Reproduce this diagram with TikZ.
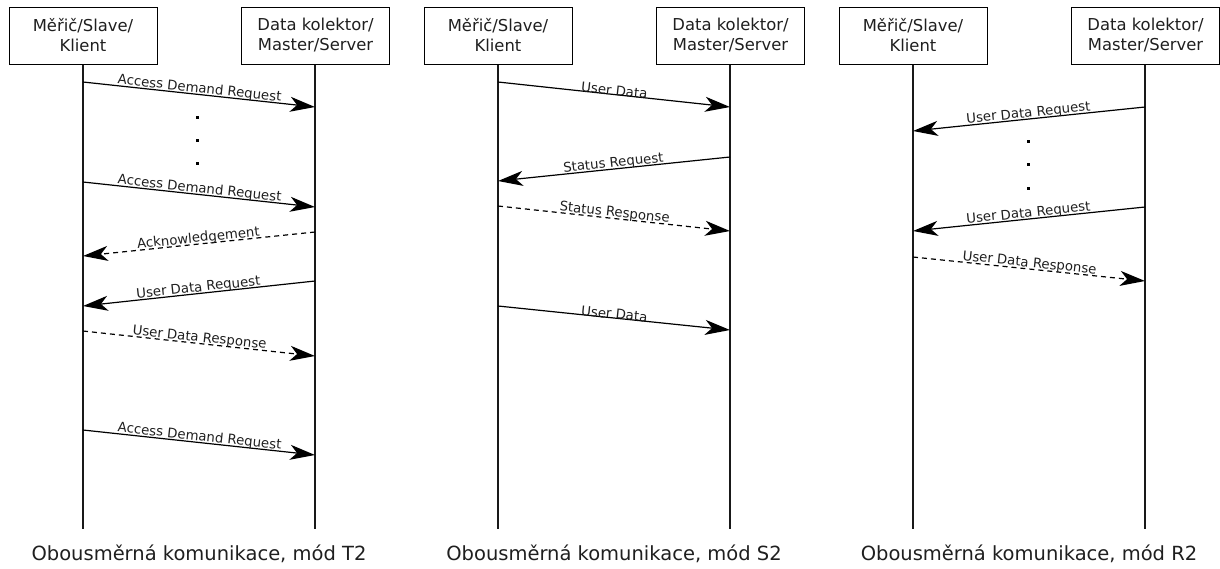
\documentclass[tikz,border=0pt]{standalone}
\usepackage{fontspec}
\setmainfont{DejaVu Sans}
\usetikzlibrary{arrows.meta}
\begin{document}
\begin{tikzpicture}[x=1pt,y=-1pt,
  actor/.style={draw, line width=1pt, minimum width=148pt, minimum height=57pt, align=center, font=\fontsize{16.4}{20}\selectfont, inner sep=0pt, text=black!88},
  life/.style={line width=1.4pt, black!90},
  msg/.style={line width=1.2pt, -{Stealth[length=25pt,width=15pt,inset=7pt]}},
  resp/.style={msg, dash pattern=on 5pt off 4pt},
  lbl/.style={midway, sloped, above=-1.5pt, inner sep=0pt, font=\fontsize{13.3}{15}\selectfont, text=black!88},
  captext/.style={font=\fontsize{19.5}{23}\selectfont, anchor=base, text=black!88},
  dotbox/.style={fill=black, minimum size=3pt, inner sep=0pt}
]
\useasboundingbox (0,0) rectangle (1220,568);
% ---------- panel 1 ----------
\node[actor] (c1) at (83,35.5) {Měřič/Slave/\\Klient};
\node[actor] (s1) at (315.5,35.5) {Data kolektor/\\Master/Server};
\coordinate (ce1) at (83,529);
\coordinate (se1) at (315,529);
\draw[life] (c1.south) -- (ce1);
\draw[life] (s1.south -| se1) -- (se1);
\node[captext] (t1) at (199,560) {Obousměrná komunikace, mód T2};
\draw[msg] (ce1 |- 0,82) -- node[lbl]{Access Demand Request} (se1 |- 0,107);
\node[dotbox] (d1a) at (197,117) {};
\node[dotbox] (d1b) at (197,140) {};
\node[dotbox] (d1c) at (197,163) {};
\draw[msg] (ce1 |- 0,182) -- node[lbl]{Access Demand Request} (se1 |- 0,207);
\draw[resp] (se1 |- 0,232) -- node[lbl]{Acknowledgement} (ce1 |- 0,256);
\draw[msg] (se1 |- 0,281) -- node[lbl]{User Data Request} (ce1 |- 0,306);
\draw[resp] (ce1 |- 0,331) -- node[lbl]{User Data Response} (se1 |- 0,356);
\draw[msg] (ce1 |- 0,430) -- node[lbl]{Access Demand Request} (se1 |- 0,455);
% ---------- panel 2 ----------
\node[actor] (c2) at (498,35.5) {Měřič/Slave/\\Klient};
\node[actor] (s2) at (730.5,35.5) {Data kolektor/\\Master/Server};
\coordinate (ce2) at (498,529);
\coordinate (se2) at (730,529);
\draw[life] (c2.south) -- (ce2);
\draw[life] (s2.south -| se2) -- (se2);
\node[captext] (t2) at (614,560) {Obousměrná komunikace, mód S2};
\draw[msg] (ce2 |- 0,82) -- node[lbl]{User Data} (se2 |- 0,107);
\draw[msg] (se2 |- 0,157) -- node[lbl]{Status Request} (ce2 |- 0,181);
\draw[resp] (ce2 |- 0,206) -- node[lbl]{Status Response} (se2 |- 0,231);
\draw[msg] (ce2 |- 0,306) -- node[lbl]{User Data} (se2 |- 0,330);
% ---------- panel 3 ----------
\node[actor] (c3) at (913,35.5) {Měřič/Slave/\\Klient};
\node[actor] (s3) at (1145.5,35.5) {Data kolektor/\\Master/Server};
\coordinate (ce3) at (913,529);
\coordinate (se3) at (1145,529);
\draw[life] (c3.south) -- (ce3);
\draw[life] (s3.south -| se3) -- (se3);
\node[captext] (t3) at (1029,560) {Obousměrná komunikace, mód R2};
\draw[msg] (se3 |- 0,107) -- node[lbl]{User Data Request} (ce3 |- 0,131);
\node[dotbox] (d3a) at (1028,141) {};
\node[dotbox] (d3b) at (1028,164) {};
\node[dotbox] (d3c) at (1028,188) {};
\draw[msg] (se3 |- 0,207) -- node[lbl]{User Data Request} (ce3 |- 0,231);
\draw[resp] (ce3 |- 0,257) -- node[lbl]{User Data Response} (se3 |- 0,281);
\end{tikzpicture}
\end{document}
